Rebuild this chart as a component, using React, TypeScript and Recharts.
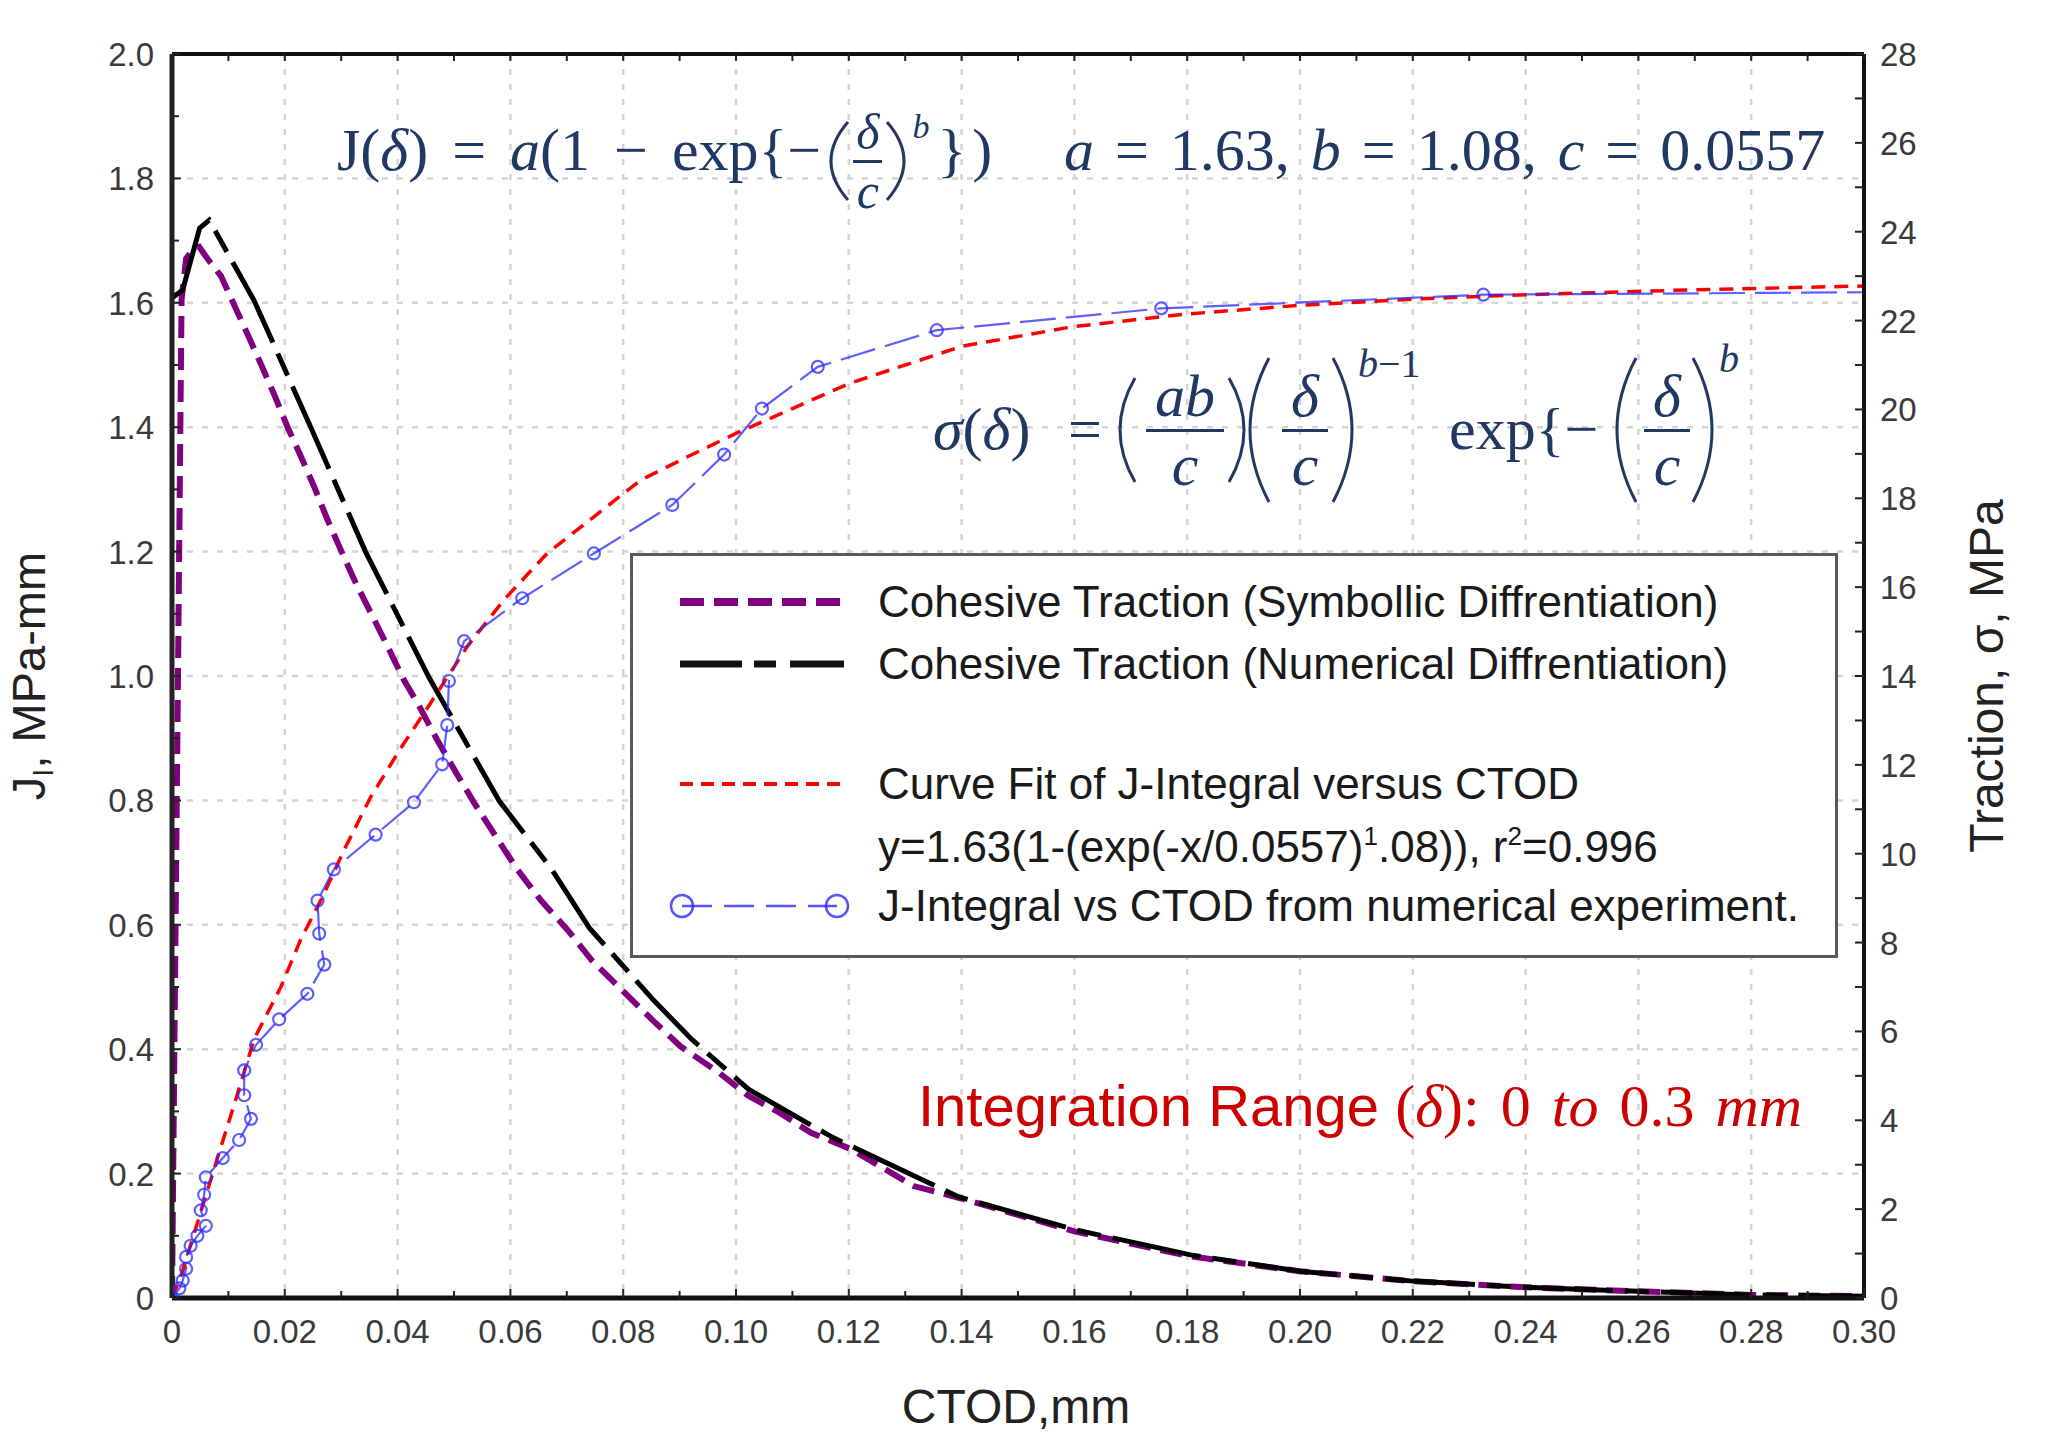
import React from 'react';
import { LineChart, Line, XAxis, YAxis, CartesianGrid } from 'recharts';

// ---- axes -------------------------------------------------------------
const xMajorTicks = [0, 0.02, 0.04, 0.06, 0.08, 0.1, 0.12, 0.14, 0.16, 0.18, 0.2, 0.22, 0.24, 0.26, 0.28, 0.3];
const xTickLabels = ['0', '0.02', '0.04', '0.06', '0.08', '0.10', '0.12', '0.14', '0.16', '0.18', '0.20', '0.22', '0.24', '0.26', '0.28', '0.30'];
const jMajorTicks = [0, 0.2, 0.4, 0.6, 0.8, 1.0, 1.2, 1.4, 1.6, 1.8, 2.0];
const jTickLabels = ['0', '0.2', '0.4', '0.6', '0.8', '1.0', '1.2', '1.4', '1.6', '1.8', '2.0'];
const tractionMajorTicks = [0, 2, 4, 6, 8, 10, 12, 14, 16, 18, 20, 22, 24, 26, 28];
const tractionTickLabels = ['0', '2', '4', '6', '8', '10', '12', '14', '16', '18', '20', '22', '24', '26', '28'];

// ---- series -----------------------------------------------------------
// Cohesive traction, symbolic differentiation (CTOD mm -> MPa)
const symbolicCtod = [0, 0.0017, 0.0025, 0.004, 0.0048, 0.0066, 0.0087, 0.0107, 0.0134, 0.0158, 0.0181, 0.0205, 0.0229, 0.0252, 0.0276, 0.0302, 0.0326, 0.0353, 0.0382, 0.0412, 0.0438, 0.0471, 0.0503, 0.0536, 0.0574, 0.0612, 0.0654, 0.0701, 0.0745, 0.0798, 0.0854, 0.0902, 0.097, 0.1022, 0.1077, 0.1133, 0.1204, 0.1315, 0.14, 0.16, 0.18, 0.2, 0.22, 0.24, 0.26, 0.28, 0.3];
const symbolicTraction = [0, 22.47, 23.4, 23.63, 23.66, 23.34, 23.0, 22.44, 21.69, 21.01, 20.34, 19.6, 18.93, 18.26, 17.51, 16.76, 16.09, 15.41, 14.67, 13.89, 13.33, 12.54, 11.84, 11.14, 10.39, 9.65, 8.95, 8.29, 7.59, 6.93, 6.23, 5.66, 5.07, 4.55, 4.17, 3.72, 3.35, 2.52, 2.24, 1.5, 0.95, 0.6, 0.38, 0.24, 0.15, 0.07, 0.04];

// Cohesive traction, numerical differentiation
const numericalCtod = [0, 0.0019, 0.0049, 0.0066, 0.0146, 0.0246, 0.0343, 0.0456, 0.058, 0.0671, 0.074, 0.0854, 0.092, 0.1022, 0.1172, 0.1394, 0.16, 0.1806, 0.2, 0.22, 0.24, 0.26, 0.28, 0.3];
const numericalTraction = [22.51, 22.69, 24.08, 24.26, 22.44, 19.6, 16.8, 13.96, 11.19, 9.69, 8.33, 6.7, 5.84, 4.7, 3.61, 2.28, 1.54, 0.97, 0.6, 0.38, 0.24, 0.15, 0.07, 0.04];

// Curve fit of J-integral vs CTOD (MPa-mm)
const fitCtod = [0, 0.0018, 0.0039, 0.0084, 0.011, 0.0146, 0.0193, 0.0228, 0.0267, 0.0305, 0.0352, 0.0405, 0.0453, 0.0524, 0.0589, 0.0665, 0.0748, 0.0831, 0.0913, 0.1, 0.11, 0.12, 0.14, 0.16, 0.18, 0.2, 0.22, 0.24, 0.27, 0.3];
const fitJ = [0, 0.041, 0.103, 0.235, 0.31, 0.417, 0.5, 0.576, 0.645, 0.72, 0.805, 0.883, 0.949, 1.048, 1.123, 1.197, 1.256, 1.315, 1.352, 1.39, 1.43, 1.47, 1.53, 1.562, 1.582, 1.596, 1.606, 1.613, 1.621, 1.627];

// J-integral vs CTOD from numerical experiment
const experimentCtod = [0, 0.0013, 0.0019, 0.0025, 0.0025, 0.0033, 0.0045, 0.006, 0.0051, 0.0057, 0.006, 0.009, 0.0119, 0.014, 0.0128, 0.0128, 0.0149, 0.019, 0.024, 0.027, 0.0261, 0.0258, 0.0287, 0.0361, 0.0429, 0.0479, 0.0488, 0.0491, 0.0518, 0.0621, 0.0748, 0.0887, 0.0979, 0.1046, 0.1145, 0.1356, 0.1754, 0.2325, 0.3];
const experimentJ = [0, 0.0155, 0.028, 0.047, 0.066, 0.084, 0.1, 0.116, 0.141, 0.166, 0.194, 0.225, 0.254, 0.288, 0.326, 0.366, 0.407, 0.448, 0.489, 0.536, 0.586, 0.639, 0.689, 0.745, 0.797, 0.858, 0.921, 0.992, 1.056, 1.125, 1.197, 1.275, 1.356, 1.43, 1.497, 1.556, 1.591, 1.613, 1.617];

const zip = (xs: number[], ys: number[]) => xs.map((x, i) => ({ x, y: ys[i] }));
const symbolicData = zip(symbolicCtod, symbolicTraction);
const numericalData = zip(numericalCtod, numericalTraction);
const fitData = zip(fitCtod, fitJ);
const experimentData = zip(experimentCtod, experimentJ);

// minor ticks sit half way between the labelled ones
const withMinor = (arr: number[]) => arr.flatMap((v, i) => (i === 0 ? [v] : [(arr[i - 1] + v) / 2, v]));
const xTicks = withMinor(xMajorTicks);
const jTicks = withMinor(jMajorTicks);
const tractionTicks = withMinor(tractionMajorTicks);

const sans = '"Liberation Sans", Arial, sans-serif';
const serif = '"Liberation Serif", "Times New Roman", serif';
const navy = '#1F3864';
const tickColor = '#3a3a3a';
const near = (a: number, b: number) => Math.abs(a - b) < 1e-9;

function BottomTick(props: any) {
  const { x, y, payload } = props;
  const k = xMajorTicks.findIndex((v) => near(v, payload.value));
  return (
    <g>
      <line x1={x} x2={x} y1={y} y2={y - (k >= 0 ? 9 : 7)} stroke="#222" strokeWidth={2} />
      {k >= 0 && (
        <text x={x} y={y + 45} textAnchor="middle" fontSize={33} fontFamily={sans} fill={tickColor}>
          {xTickLabels[k]}
        </text>
      )}
    </g>
  );
}

function TopTick(props: any) {
  const { x, y } = props;
  return <line x1={x} x2={x} y1={y} y2={y + 7} stroke="#222" strokeWidth={2} />;
}

function LeftTick(props: any) {
  const { x, y, payload } = props;
  const k = jMajorTicks.findIndex((v) => near(v, payload.value));
  return (
    <g>
      <line x1={x} x2={x + (k >= 0 ? 9 : 7)} y1={y} y2={y} stroke="#222" strokeWidth={2} />
      {k >= 0 && (
        <text x={x - 18} y={y + 12} textAnchor="end" fontSize={33} fontFamily={sans} fill={tickColor}>
          {jTickLabels[k]}
        </text>
      )}
    </g>
  );
}

function RightTick(props: any) {
  const { x, y, payload } = props;
  const k = tractionMajorTicks.findIndex((v) => near(v, payload.value));
  return (
    <g>
      <line x1={x} x2={x - 9} y1={y} y2={y} stroke="#222" strokeWidth={2} />
      {k >= 0 && (
        <text x={x + 16} y={y + 12} textAnchor="start" fontSize={33} fontFamily={sans} fill={tickColor}>
          {tractionTickLabels[k]}
        </text>
      )}
    </g>
  );
}

function ExperimentDot(props: any) {
  const { cx, cy, index } = props;
  if (index === experimentData.length - 1) return <g key={`e-${index}`} />;
  return <circle key={`e-${index}`} cx={cx} cy={cy} r={6} fill="none" stroke="#2a2aff" strokeOpacity={0.75} strokeWidth={2.2} />;
}

// ---- math helpers ------------------------------------------------------
const pre: React.CSSProperties = { whiteSpace: 'pre' };

function Paren({ h, w = 16, right = false, sw = 3, style }: { h: number; w?: number; right?: boolean; sw?: number; style?: React.CSSProperties }) {
  const d = right
    ? `M ${sw} ${sw} Q ${2 * w - sw} ${h / 2} ${sw} ${h - sw}`
    : `M ${w - sw} ${sw} Q ${-w + sw} ${h / 2} ${w - sw} ${h - sw}`;
  return (
    <svg width={w} height={h} style={{ display: 'block', overflow: 'visible', flex: 'none', ...style }}>
      <path d={d} stroke={navy} strokeWidth={sw} fill="none" />
    </svg>
  );
}

function Frac({ n, d, size, width, style }: { n: React.ReactNode; d: React.ReactNode; size: number; width?: number; style?: React.CSSProperties }) {
  return (
    <div style={{ display: 'flex', flexDirection: 'column', alignItems: 'center', fontFamily: serif, fontSize: size, lineHeight: 1, color: navy, width, ...style }}>
      <div style={{ padding: '0 3px 3px' }}>{n}</div>
      <div style={{ alignSelf: 'stretch', borderTop: `3px solid ${navy}` }} />
      <div style={{ padding: '3px 3px 0' }}>{d}</div>
    </div>
  );
}

// a text run whose baseline sits at the given y
function TextAt({ x, baseline, size = 60, children, style }: { x: number; baseline: number; size?: number; children: React.ReactNode; style?: React.CSSProperties }) {
  return (
    <div style={{ position: 'absolute', left: x, top: baseline - 0.8375 * size, fontFamily: serif, fontSize: size, lineHeight: 1, color: navy, whiteSpace: 'pre', ...style }}>
      {children}
    </div>
  );
}

// a block vertically centred on cy
function CenterAt({ x, cy, children }: { x: number; cy: number; children: React.ReactNode }) {
  return (
    <div style={{ position: 'absolute', left: x, top: cy - 100, height: 200, display: 'flex', alignItems: 'center' }}>{children}</div>
  );
}

function LegendBox() {
  const row = (top: number): React.CSSProperties => ({
    position: 'absolute',
    left: 245,
    top: top - 22,
    fontSize: 44,
    lineHeight: '44px',
    whiteSpace: 'nowrap',
    color: '#1a1a1a',
  });
  const sample = (top: number): React.CSSProperties => ({ position: 'absolute', left: 35, top: top - 20 });
  const sup: React.CSSProperties = { fontSize: 26, position: 'relative', top: -17 };
  return (
    <div
      style={{
        position: 'absolute',
        left: 630,
        top: 553,
        width: 1208,
        height: 405,
        boxSizing: 'border-box',
        border: '3px solid #5a5a5a',
        background: '#fff',
        fontFamily: sans,
      }}
    >
      <svg width={190} height={40} style={sample(46)}>
        <line x1={12} x2={172} y1={20} y2={20} stroke="#800080" strokeWidth={8} strokeDasharray="24 10" />
      </svg>
      <div style={row(46)}>Cohesive Traction (Symbollic Diffrentiation)</div>

      <svg width={190} height={40} style={sample(108)}>
        <line x1={12} x2={176} y1={20} y2={20} stroke="#111" strokeWidth={7} strokeDasharray="62 12 22 14" />
      </svg>
      <div style={row(108)}>Cohesive Traction (Numerical Diffrentiation)</div>

      <svg width={190} height={40} style={sample(228)}>
        <line x1={12} x2={176} y1={20} y2={20} stroke="#ff0000" strokeWidth={4} strokeDasharray="13 8" />
      </svg>
      <div style={row(228)}>Curve Fit of J-Integral versus CTOD</div>
      <div style={row(291)}>
        y=1.63(1-(exp(-x/0.0557)<span style={sup}>1</span>.08)), r<span style={sup}>2</span>=0.996
      </div>

      <svg width={200} height={40} style={sample(350)}>
        <line x1={14} x2={169} y1={20} y2={20} stroke="#2a2aff" strokeOpacity={0.8} strokeWidth={2.5} strokeDasharray="30 12" />
        <circle cx={14} cy={20} r={11} fill="none" stroke="#2a2aff" strokeOpacity={0.8} strokeWidth={2.5} />
        <circle cx={169} cy={20} r={11} fill="none" stroke="#2a2aff" strokeOpacity={0.8} strokeWidth={2.5} />
      </svg>
      <div style={row(350)}>J-Integral vs CTOD from numerical experiment.</div>
    </div>
  );
}

export default function App() {
  return (
    <div style={{ position: 'absolute', left: 0, top: 0, width: 2047, height: 1435, background: '#fff', overflow: 'hidden' }}>
      <LineChart width={2047} height={1435} margin={{ top: 24, right: 0, bottom: 0, left: 0 }}>
        <CartesianGrid
          xAxisId="b"
          yAxisId="left"
          stroke="#d4d4d4"
          strokeWidth={2.5}
          strokeDasharray="6 9"
          verticalValues={xMajorTicks}
          horizontalValues={jMajorTicks}
        />
        <XAxis
          xAxisId="b"
          type="number"
          dataKey="x"
          domain={[0, 0.3]}
          allowDataOverflow
          ticks={xTicks}
          interval={0}
          height={137}
          tickSize={0}
          tickMargin={0}
          tickLine={false}
          tick={BottomTick}
          axisLine={{ stroke: '#111', strokeWidth: 5 }}
        />
        <XAxis
          xAxisId="t"
          orientation="top"
          type="number"
          dataKey="x"
          domain={[0, 0.3]}
          allowDataOverflow
          ticks={xTicks}
          interval={0}
          height={30}
          tickSize={0}
          tickMargin={0}
          tickLine={false}
          tick={TopTick}
          axisLine={{ stroke: '#111', strokeWidth: 4 }}
        />
        <YAxis
          yAxisId="left"
          type="number"
          domain={[0, 2]}
          allowDataOverflow
          ticks={jTicks}
          interval={0}
          width={172}
          tickSize={0}
          tickMargin={0}
          tickLine={false}
          tick={LeftTick}
          axisLine={{ stroke: '#222', strokeWidth: 5 }}
        />
        <YAxis
          yAxisId="right"
          orientation="right"
          type="number"
          domain={[0, 28]}
          allowDataOverflow
          ticks={tractionTicks}
          interval={0}
          width={183}
          tickSize={0}
          tickMargin={0}
          tickLine={false}
          tick={RightTick}
          axisLine={{ stroke: '#111', strokeWidth: 4 }}
        />
        <Line
          xAxisId="b"
          yAxisId="right"
          data={symbolicData}
          dataKey="y"
          type="linear"
          stroke="#800080"
          strokeWidth={6}
          strokeDasharray="22 10"
          dot={false}
          isAnimationActive={false}
        />
        <Line
          xAxisId="b"
          yAxisId="right"
          data={numericalData}
          dataKey="y"
          type="linear"
          stroke="#000"
          strokeWidth={5}
          strokeDasharray="90 12 24 12"
          dot={false}
          isAnimationActive={false}
        />
        <Line
          xAxisId="b"
          yAxisId="left"
          data={fitData}
          dataKey="y"
          type="linear"
          stroke="#ff0000"
          strokeWidth={3.5}
          strokeDasharray="14 9"
          dot={false}
          isAnimationActive={false}
        />
        <Line
          xAxisId="b"
          yAxisId="left"
          data={experimentData}
          dataKey="y"
          type="linear"
          stroke="#2a2aff"
          strokeOpacity={0.75}
          strokeWidth={2.2}
          strokeDasharray="36 10"
          dot={ExperimentDot}
          isAnimationActive={false}
        />
      </LineChart>

      {/* axis titles */}
      <svg width={2047} height={1435} style={{ position: 'absolute', left: 0, top: 0, pointerEvents: 'none' }}>
        <text transform="translate(45, 676) rotate(-90)" textAnchor="middle" fontFamily={sans} fontSize={47} fill="#222">
          J<tspan fontSize={29} dy={8}>I</tspan>
          <tspan dy={-8}>, MPa-mm</tspan>
        </text>
        <text x={1016} y={1423} textAnchor="middle" fontFamily={sans} fontSize={48} fill="#222">
          CTOD,mm
        </text>
        <text transform="translate(2003, 676) rotate(-90)" textAnchor="middle" fontFamily={sans} fontSize={48} fill="#222">
          Traction, σ, MPa
        </text>
      </svg>

      {/* J(δ) fit equation */}
      <div style={{ position: 'absolute', left: 337, top: 90, height: 120, display: 'flex', alignItems: 'center', fontFamily: serif, fontSize: 60, lineHeight: 1, color: navy }}>
        <span style={{ ...pre, wordSpacing: 9 }}>
          J(<i>δ</i>) = <i>a</i>(1 − exp{'{'}−
        </span>
        <Paren h={84} w={20} style={{ marginTop: 22, marginLeft: 10 }} />
        <Frac n={<i>δ</i>} d={<i>c</i>} size={50} style={{ margin: '22px 2px 0' }} />
        <Paren h={84} w={20} right style={{ marginTop: 22 }} />
        <span style={{ ...pre, alignSelf: 'flex-start', fontSize: 34, marginTop: 20, marginLeft: 8 }}>
          <i>b</i>
        </span>
        <span style={{ ...pre, marginLeft: 8, letterSpacing: 6 }}>{'})'}</span>
      </div>
      <TextAt x={1064} baseline={170} style={{ wordSpacing: 6 }}>
        <i>a</i> = 1.63, <i>b</i> = 1.08, <i>c</i> = 0.0557
      </TextAt>

      {/* σ(δ) traction equation */}
      <TextAt x={933} baseline={449}>
        <i>σ</i>(<i>δ</i>)
      </TextAt>
      <TextAt x={1068} baseline={449}>=</TextAt>
      <CenterAt x={1120} cy={430}>
        <Paren h={110} w={18} />
      </CenterAt>
      <CenterAt x={1146} cy={430}>
        <Frac n={<i>ab</i>} d={<i>c</i>} size={60} width={78} />
      </CenterAt>
      <CenterAt x={1226} cy={430}>
        <Paren h={110} w={18} right />
      </CenterAt>
      <CenterAt x={1250} cy={430}>
        <Paren h={150} w={22} />
      </CenterAt>
      <CenterAt x={1282} cy={430}>
        <Frac n={<i>δ</i>} d={<i>c</i>} size={60} width={46} />
      </CenterAt>
      <CenterAt x={1330} cy={430}>
        <Paren h={150} w={22} right />
      </CenterAt>
      <TextAt x={1358} baseline={377} size={40}>
        <i>b</i>−1
      </TextAt>
      <TextAt x={1449} baseline={449}>exp{'{'}−</TextAt>
      <CenterAt x={1617} cy={430}>
        <Paren h={150} w={22} />
      </CenterAt>
      <CenterAt x={1644} cy={430}>
        <Frac n={<i>δ</i>} d={<i>c</i>} size={60} width={46} />
      </CenterAt>
      <CenterAt x={1690} cy={430}>
        <Paren h={150} w={22} right />
      </CenterAt>
      <TextAt x={1719} baseline={372} size={40}>
        <i>b</i>
      </TextAt>

      {/* integration range note */}
      <div style={{ position: 'absolute', left: 918, top: 1076, display: 'flex', alignItems: 'baseline', color: '#cc0000', lineHeight: 1, whiteSpace: 'pre' }}>
        <span style={{ fontFamily: sans, fontSize: 58 }}>Integration Range </span>
        <span style={{ fontFamily: serif, fontSize: 60, wordSpacing: 6 }}>
          (<i>δ</i>): 0 <i>to</i> 0.3 <i>mm</i>
        </span>
      </div>

      <LegendBox />
    </div>
  );
}
